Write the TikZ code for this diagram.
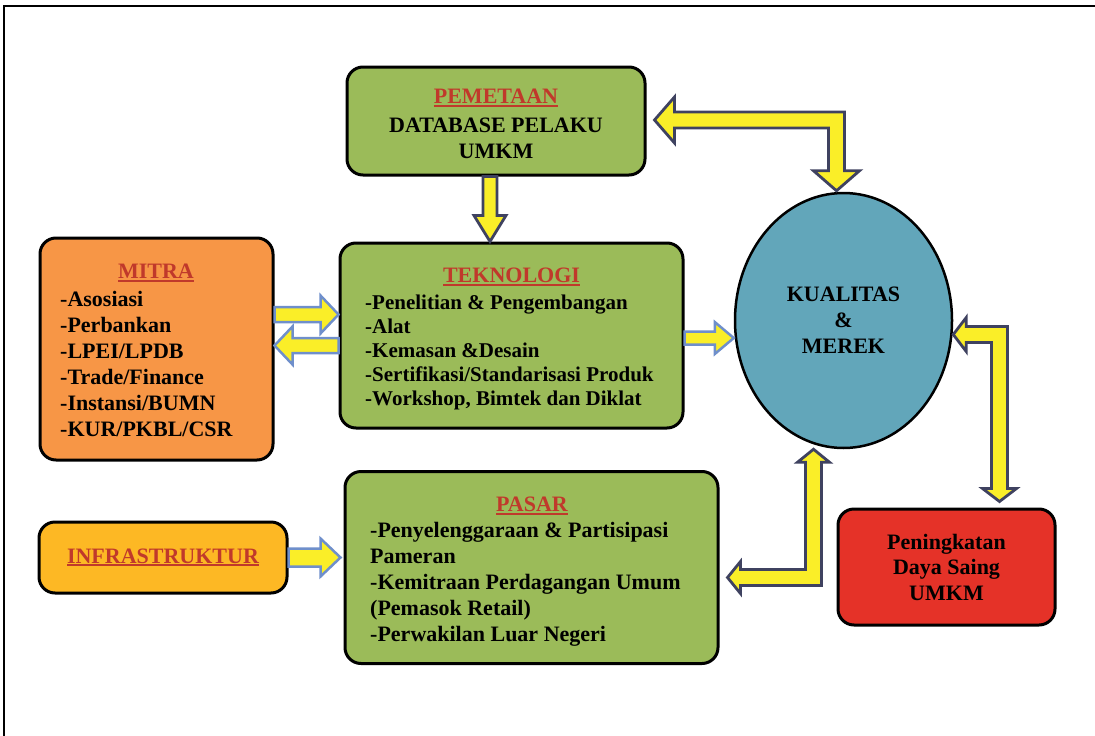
\documentclass[tikz,border=0pt]{standalone}
\usepackage{fontspec}
\setmainfont{Liberation Serif}
\usetikzlibrary{calc,shapes.geometric}
\definecolor{boxgreen}{RGB}{155,187,89}
\definecolor{boxorange}{RGB}{247,150,70}
\definecolor{boxgold}{RGB}{253,184,36}
\definecolor{ovalteal}{RGB}{98,166,186}
\definecolor{boxred}{RGB}{229,50,40}
\definecolor{titlered}{RGB}{192,57,43}
\definecolor{arrowyellow}{RGB}{250,238,40}
\definecolor{arrowblue}{RGB}{111,143,203}
\definecolor{arrownavy}{RGB}{63,66,96}
\newcommand{\boxfont}{\fontsize{22}{26}\selectfont\bfseries}
\newcommand{\ulred}[1]{\setbox0=\hbox{#1}\rlap{\rule[-3pt]{\wd0}{1.8pt}}\box0}
% straight block arrow: [style]{tail}{tip}{shaft half}{head half}{head length}
\newcommand{\blockarrow}[6][]{%
  \coordinate (ba) at ($(#3)!#6pt!(#2)$);
  \draw[#1] ($(#2)!#4pt!90:(#3)$) -- ($(ba)!#4pt!90:(#3)$) -- ($(ba)!#5pt!90:(#3)$) -- (#3)
    -- ($(ba)!#5pt!-90:(#3)$) -- ($(ba)!#4pt!-90:(#3)$) -- ($(#2)!#4pt!-90:(#3)$) -- cycle;}
% elbow block arrow: [style]{left tip}{vertical tip}{shaft half}{head half}{head length}{1 down, -1 up}
\newcommand{\elbowarrow}[7][]{%
  \coordinate (ec) at (#3 |- #2);
  \draw[#1] (#2) -- ($(#2)+(#6,-#5)$) -- ($(#2)+(#6,-#4)$) -- ($(ec)+({#7*#4},-#4)$)
    -- ($(#3)+({#7*#4},{-(#7)*#6})$) -- ($(#3)+({#7*#5},{-(#7)*#6})$) -- (#3)
    -- ($(#3)+({-(#7)*#5},{-(#7)*#6})$) -- ($(#3)+({-(#7)*#4},{-(#7)*#6})$)
    -- ($(ec)+({-(#7)*#4},#4)$) -- ($(#2)+(#6,#4)$) -- ($(#2)+(#6,#5)$) -- cycle;}

\begin{document}
\begin{tikzpicture}[x=1pt,y=-1pt,
  box/.style={draw=black, line width=3pt, rounded corners=16pt, inner sep=0pt},
  head/.style={text=titlered, font=\boxfont, inner sep=0pt},
  txt/.style={font=\boxfont, align=left, inner sep=0pt},
  yarrow/.style={fill=arrowyellow, draw=arrowblue, line width=2.5pt},
  darrow/.style={yarrow, draw=arrownavy, line width=2.8pt}]
\useasboundingbox (0,0) rectangle (1095,736);
\draw[line width=1.5pt] (4,736) -- (4,6) -- (1095,6);

% boxes
\node[box, fill=boxgreen, minimum width=298, minimum height=108] (pem) at (496,121) {};
\node[head] (pemtitle) at (496,98) {\ulred{PEMETAAN}};
\node[txt, align=center] (pemtext) at (496,138) {DATABASE PELAKU\\UMKM};

\node[box, fill=boxgreen, minimum width=343, minimum height=185] (tek) at (511.5,335.5) {};
\node[head] (tektitle) at (511.5,277) {\ulred{TEKNOLOGI}};
\node[txt, anchor=west, font=\fontsize{21}{24}\selectfont\bfseries] (teklist) at (365,352)
  {-Penelitian \& Pengembangan\\-Alat\\-Kemasan \&Desain\\-Sertifikasi/Standarisasi Produk\\-Workshop, Bimtek dan Diklat};

\node[box, fill=boxorange, minimum width=233, minimum height=222] (mitra) at (156.5,349) {};
\node[head] (mitratitle) at (156,273) {\ulred{MITRA}};
\node[txt, anchor=west] (mitralist) at (60,364)
  {-Asosiasi\\-Perbankan\\-LPEI/LPDB\\-Trade/Finance\\-Instansi/BUMN\\-KUR/PKBL/CSR};

\node[box, fill=boxgreen, minimum width=373, minimum height=192] (pasar) at (531.5,567.5) {};
\node[head] (pasartitle) at (532,506) {\ulred{PASAR}};
\node[txt, anchor=west] (pasarlist) at (370,584)
  {-Penyelenggaraan \& Partisipasi\\Pameran\\-Kemitraan Perdagangan Umum\\(Pemasok Retail)\\-Perwakilan Luar Negeri};

\node[box, fill=boxgold, minimum width=248, minimum height=71, text=titlered, font=\boxfont] (infra) at (163,557.5) {\ulred{INFRASTRUKTUR}};

\node[ellipse, draw=black, line width=2.5pt, fill=ovalteal, minimum width=217, minimum height=255,
  inner sep=0pt, align=center, font=\boxfont] (kual) at (843.5,320.5) {KUALITAS\\\&\\MEREK};

\node[box, fill=boxred, minimum width=217, minimum height=116, align=center,
  font=\fontsize{22}{25.5}\selectfont\bfseries] (saing) at (946.5,567) {Peningkatan\\Daya Saing\\UMKM};

% straight arrows
\coordinate (a1) at ($(pem.south)+(-6,0)$);
\coordinate (a2) at (a1 |- tek.north);
\blockarrow[darrow]{a1}{a2}{7}{16}{26}
\coordinate (b1) at ($(mitra.east)+(0,-34.5)$);
\coordinate (b2) at (b1 -| tek.west);
\blockarrow[yarrow]{b1}{b2}{7.5}{19}{18}
\coordinate (c1) at ($(tek.west)+(0,10)$);
\coordinate (c2) at (c1 -| mitra.east);
\blockarrow[yarrow]{c1}{c2}{7.5}{19}{18}
\coordinate (d1) at ($(tek.east)+(0,2.5)$);
\coordinate (d2) at (d1 -| kual.west);
\blockarrow[yarrow]{d1}{d2}{6.5}{16}{19}
\coordinate (e1) at (infra.east);
\coordinate (e2) at ($(e1 -| pasar.west)+(-3,0)$);
\blockarrow[yarrow]{e1}{e2}{9}{19}{20}

% elbow arrows
\coordinate (f1) at ($(pem.east)+(8,-1)$);
\coordinate (f2) at ($(kual.north)+(-7,-1)$);
\elbowarrow[darrow]{f1}{f2}{8}{23}{20}{1}
\coordinate (g1) at ($(pasar.east)+(8,10)$);
\coordinate (g2) at ($(kual.south)+(-30,0)$);
\elbowarrow[darrow]{g1}{g2}{8}{16}{13}{-1}
\coordinate (h1) at ($(kual.east)+(0,14)$);
\coordinate (h2) at ($(saing.north)+(53,-6)$);
\elbowarrow[darrow]{h1}{h2}{8}{17}{13}{1}
\end{tikzpicture}
\end{document}
